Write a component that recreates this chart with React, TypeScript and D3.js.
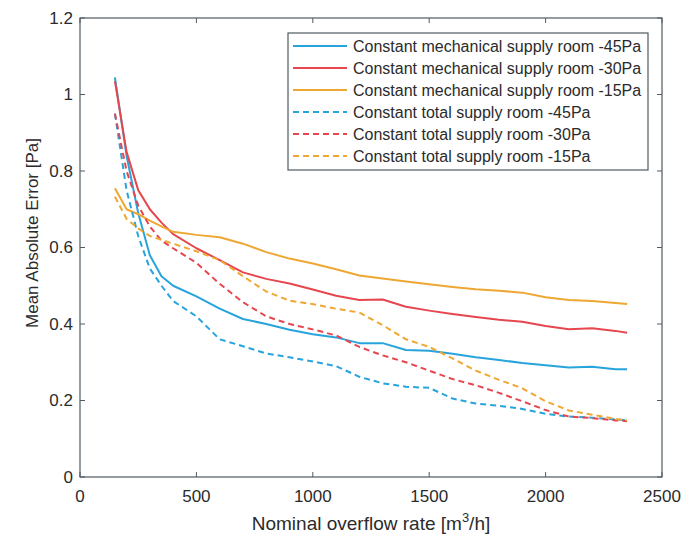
import * as d3 from 'd3';

// flow rate [m3/h] sampled points
const flowRates = [150, 200, 250, 300, 350, 400, 500, 600, 700, 800, 900, 1000, 1100, 1200, 1300, 1400, 1500, 1600, 1700, 1800, 1900, 2000, 2100, 2200, 2300, 2350];

const mech45 = [1.045, 0.84, 0.69, 0.58, 0.525, 0.5, 0.472, 0.44, 0.413, 0.4, 0.385, 0.373, 0.365, 0.35, 0.35, 0.332, 0.33, 0.322, 0.313, 0.306, 0.298, 0.292, 0.286, 0.288, 0.282, 0.282];
const mech30 = [1.035, 0.85, 0.75, 0.7, 0.665, 0.635, 0.598, 0.567, 0.535, 0.518, 0.506, 0.49, 0.474, 0.463, 0.464, 0.445, 0.435, 0.426, 0.418, 0.411, 0.406, 0.395, 0.386, 0.389, 0.382, 0.377];
const mech15 = [0.755, 0.7, 0.687, 0.67, 0.655, 0.641, 0.633, 0.627, 0.61, 0.588, 0.571, 0.558, 0.543, 0.527, 0.519, 0.511, 0.504, 0.497, 0.491, 0.487, 0.482, 0.47, 0.463, 0.46, 0.455, 0.452];
const total45 = [0.95, 0.75, 0.63, 0.545, 0.5, 0.46, 0.42, 0.36, 0.342, 0.323, 0.313, 0.302, 0.29, 0.262, 0.245, 0.236, 0.233, 0.205, 0.192, 0.186, 0.178, 0.165, 0.158, 0.155, 0.15, 0.148];
const total30 = [0.95, 0.8, 0.71, 0.655, 0.618, 0.598, 0.56, 0.505, 0.457, 0.42, 0.4, 0.386, 0.37, 0.34, 0.318, 0.3, 0.278, 0.256, 0.24, 0.22, 0.198, 0.175, 0.158, 0.154, 0.148, 0.146];
const total15 = [0.733, 0.675, 0.65, 0.63, 0.62, 0.61, 0.59, 0.567, 0.525, 0.485, 0.461, 0.452, 0.44, 0.43, 0.397, 0.36, 0.34, 0.31, 0.278, 0.254, 0.232, 0.198, 0.174, 0.163, 0.152, 0.148];

const seriesNames = [
    'Constant mechanical supply room -45Pa',
    'Constant mechanical supply room -30Pa',
    'Constant mechanical supply room -15Pa',
    'Constant total supply room -45Pa',
    'Constant total supply room -30Pa',
    'Constant total supply room -15Pa',
];

const xTicks = [0, 500, 1000, 1500, 2000, 2500];
const yTicks = [0, 0.2, 0.4, 0.6, 0.8, 1, 1.2];

const BLUE = '#27a4dc';
const RED = '#e6464e';
const ORANGE = '#eea733';
const AXIS = '#4f5b62';
const TEXT = '#2b2b2b';

const series = [
    { name: seriesNames[0], values: mech45, color: BLUE, dashed: false },
    { name: seriesNames[1], values: mech30, color: RED, dashed: false },
    { name: seriesNames[2], values: mech15, color: ORANGE, dashed: false },
    { name: seriesNames[3], values: total45, color: BLUE, dashed: true },
    { name: seriesNames[4], values: total30, color: RED, dashed: true },
    { name: seriesNames[5], values: total15, color: ORANGE, dashed: true },
];

export default function App() {
    const width = 700;
    const height = 545;
    const margin = { top: 18, right: 38, bottom: 68, left: 80 };
    const innerW = width - margin.left - margin.right;
    const innerH = height - margin.top - margin.bottom;

    const x = d3.scaleLinear().domain([0, 2500]).range([0, innerW]);
    const y = d3.scaleLinear().domain([0, 1.2]).range([innerH, 0]);

    const line = d3
        .line<number>()
        .x((_, i) => x(flowRates[i]))
        .y((d) => y(d));

    const font = '"Liberation Sans", Arial, sans-serif';
    const tick = 5;

    // legend layout
    const lgX = 288 - margin.left;
    const lgY = 33 - margin.top;
    const lgW = 360;
    const lgH = 137;
    const rowH = 22;

    return (
        <div style={{ position: 'fixed', left: 0, top: 0 }}>
            <svg width={width} height={height} style={{ background: '#fff', display: 'block' }}>
                <g transform={`translate(${margin.left},${margin.top})`}>
                    {/* lines */}
                    {series.map((s) => (
                        <path
                            key={s.name}
                            d={line(s.values) || ''}
                            fill="none"
                            stroke={s.color}
                            strokeWidth={2}
                            strokeDasharray={s.dashed ? '6,4' : undefined}
                            strokeLinejoin="round"
                        />
                    ))}

                    {/* axes box */}
                    <rect x={0} y={0} width={innerW} height={innerH} fill="none" stroke={AXIS} strokeWidth={1.2} />

                    {xTicks.map((t) => (
                        <g key={`x${t}`}>
                            <line x1={x(t)} x2={x(t)} y1={innerH} y2={innerH - tick} stroke={AXIS} />
                            <line x1={x(t)} x2={x(t)} y1={0} y2={tick} stroke={AXIS} />
                            <text
                                x={x(t)}
                                y={innerH + 25}
                                textAnchor="middle"
                                fontFamily={font}
                                fontSize={17}
                                fill={TEXT}
                            >
                                {t}
                            </text>
                        </g>
                    ))}

                    {yTicks.map((t) => (
                        <g key={`y${t}`}>
                            <line x1={0} x2={tick} y1={y(t)} y2={y(t)} stroke={AXIS} />
                            <line x1={innerW} x2={innerW - tick} y1={y(t)} y2={y(t)} stroke={AXIS} />
                            <text
                                x={-7}
                                y={y(t)}
                                dy="0.35em"
                                textAnchor="end"
                                fontFamily={font}
                                fontSize={17}
                                fill={TEXT}
                            >
                                {t}
                            </text>
                        </g>
                    ))}

                    {/* axis titles */}
                    <text
                        x={innerW / 2}
                        y={innerH + 53}
                        textAnchor="middle"
                        fontFamily={font}
                        fontSize={19}
                        fill={TEXT}
                    >
                        Nominal overflow rate [m
                        <tspan dy={-8} fontSize={13}>3</tspan>
                        <tspan dy={8}>/h]</tspan>
                    </text>
                    <text
                        transform={`translate(${-48},${233 - margin.top}) rotate(-90)`}
                        dy="0.35em"
                        textAnchor="middle"
                        fontFamily={font}
                        fontSize={17}
                        fill={TEXT}
                    >
                        Mean Absolute Error [Pa]
                    </text>

                    {/* legend */}
                    <g transform={`translate(${lgX},${lgY})`}>
                        <rect width={lgW} height={lgH} fill="#fff" stroke={AXIS} strokeWidth={1.2} />
                        {series.map((s, i) => (
                            <g key={`lg${i}`} transform={`translate(0,${13 + i * rowH})`}>
                                <line
                                    x1={5}
                                    x2={59}
                                    y1={0}
                                    y2={0}
                                    stroke={s.color}
                                    strokeWidth={2}
                                    strokeDasharray={s.dashed ? '6,4' : undefined}
                                />
                                <text
                                    x={65}
                                    y={0}
                                    dy="0.35em"
                                    fontFamily={font}
                                    fontSize={16}
                                    fill={TEXT}
                                >
                                    {s.name}
                                </text>
                            </g>
                        ))}
                    </g>
                </g>
            </svg>
        </div>
    );
}
